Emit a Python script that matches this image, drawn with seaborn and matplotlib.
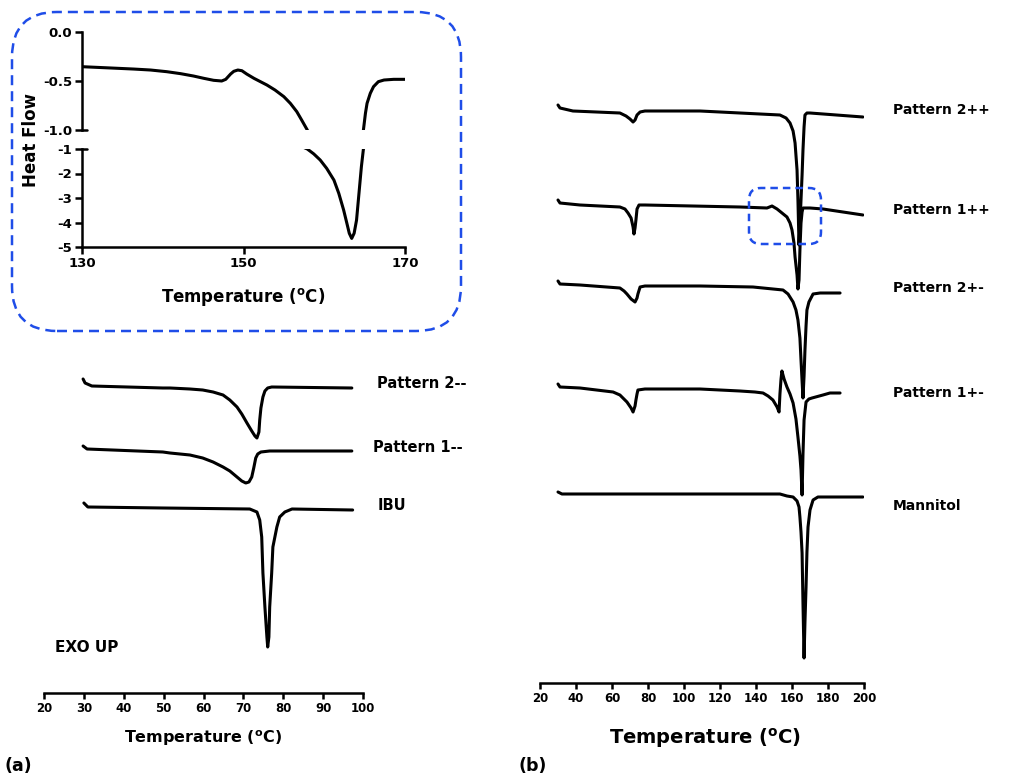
import numpy as np
import pandas as pd
import matplotlib
matplotlib.use("Agg")
import matplotlib.pyplot as plt
from matplotlib.patches import FancyBboxPatch
import seaborn as sns

# ---- data (T in degC, heat flow relative to start, a.u.) ----

# inset: Pattern 1++ zoomed 130-170 C
inset_temp = [130.0, 133.5, 136.4, 138.5, 140.5, 142.2, 143.8, 145.1, 146.3, 147.3, 147.8, 148.4,
              148.8, 149.3, 149.8, 150.4, 151.3, 152.1, 152.9, 153.9, 155.0, 155.8, 156.6, 157.2,
              157.9, 158.7, 159.5, 160.3, 161.2, 161.8, 162.4, 162.8, 163.1, 163.4, 163.7, 164.0,
              164.3, 164.6, 164.85, 165.1, 165.3, 165.7, 166.1, 166.7, 167.4, 168.6, 170.0]
inset_hf = [-0.354, -0.367, -0.378, -0.388, -0.405, -0.425, -0.449, -0.473, -0.493, -0.500, -0.483, -0.429,
            -0.401, -0.388, -0.395, -0.429, -0.473, -0.507, -0.541, -0.592, -0.660, -0.728, -0.813, -0.898,
            -1.0, -1.20, -1.45, -1.79, -2.27, -2.81, -3.49, -4.03, -4.44, -4.65, -4.44, -3.90,
            -2.81, -1.72, -1.0, -0.830, -0.728, -0.626, -0.558, -0.507, -0.490, -0.483, -0.483]

# panel (a)
a_names = ["Pattern 2--", "Pattern 1--", "IBU"]
a_offsets = [31.4, 24.7, 19.0]
a_p2_temp = [29.8, 30.3, 32.0, 49.8, 51.6, 56.6, 59.8, 62.4, 64.9, 66.6, 68.4, 69.6, 70.9, 72.1,
             72.9, 73.4, 73.9, 74.1, 74.4, 74.9, 75.4, 76.1, 77.1, 97.2]
a_p2_hf = [0, -0.4, -0.7, -0.9, -0.9, -1.0, -1.1, -1.3, -1.6, -2.1, -2.8, -3.5, -4.4, -5.2,
           -5.7, -5.9, -5.3, -4.1, -2.9, -1.8, -1.2, -0.9, -0.8, -0.9]
a_p1_temp = [29.8, 30.8, 49.8, 51.6, 56.6, 59.8, 62.4, 64.9, 66.6, 68.4, 69.6, 70.6, 71.4, 72.1,
             72.6, 73.1, 73.6, 74.4, 76.6, 97.2]
a_p1_hf = [0, -0.3, -0.6, -0.7, -0.9, -1.2, -1.6, -2.1, -2.5, -3.1, -3.5, -3.7, -3.6, -3.1,
           -2.2, -1.2, -0.8, -0.6, -0.5, -0.5]
a_ibu_temp = [30.0, 31.0, 49.8, 71.6, 73.4, 74.1, 74.6, 74.9, 75.4, 75.9, 76.1, 76.4, 76.6, 77.1,
              77.4, 78.4, 79.1, 80.4, 82.2, 97.4]
a_ibu_hf = [0, -0.4, -0.5, -0.6, -0.9, -1.7, -3.4, -7.0, -10.4, -13.4, -14.4, -13.4, -10.4, -7.0,
            -4.4, -2.4, -1.4, -0.9, -0.6, -0.7]
a_ticks = [20, 30, 40, 50, 60, 70, 80, 90, 100]

# panel (b)
b_names = ["Pattern 2++", "Pattern 1++", "Pattern 2+-", "Pattern 1+-", "Mannitol"]
b_offsets = [57.8, 48.3, 40.2, 29.9, 19.1]
b_p2pp_temp = [30.0, 31.1, 38.3, 64.4, 67.8, 70.0, 71.7, 72.8, 73.9, 75.6, 78.3, 108.9, 131.1,
               153.3, 156.7, 158.9, 160.6, 161.7, 162.8, 163.3, 163.9, 164.4, 165.0, 165.6, 166.1,
               166.7, 167.2, 168.3, 170.0, 199.4]
b_p2pp_hf = [0, -0.3, -0.6, -0.8, -1.1, -1.4, -1.7, -1.5, -1.0, -0.7, -0.6, -0.6, -0.8,
             -1.0, -1.3, -1.8, -2.6, -3.8, -6.5, -9.5, -14.0, -12.0, -9.5, -7.0, -4.5,
             -2.2, -1.0, -0.8, -0.8, -1.2]
b_p1pp_temp = [30.0, 31.1, 42.2, 64.4, 67.2, 68.9, 70.6, 71.7, 72.2, 72.8, 73.3, 73.9, 75.0, 78.3,
               131.1, 146.1, 148.9, 151.7, 157.2, 158.9, 160.0, 161.1, 161.7, 162.8, 163.3, 163.9,
               164.4, 165.0, 165.6, 166.1, 170.0, 177.2, 199.4]
b_p1pp_hf = [0, -0.3, -0.5, -0.7, -0.9, -1.3, -1.8, -2.7, -3.4, -2.8, -2.0, -0.9, -0.5, -0.5,
             -0.7, -0.8, -0.6, -0.9, -1.7, -2.3, -3.0, -4.3, -5.7, -7.5, -8.9, -8.0,
             -5.0, -2.3, -1.2, -0.8, -0.8, -0.9, -1.5]
b_p2pm_temp = [30.0, 31.1, 42.2, 64.4, 66.7, 68.3, 70.6, 72.8, 73.9, 74.4, 75.6, 78.3, 108.9,
               138.3, 155.0, 157.8, 160.6, 162.2, 163.3, 164.4, 165.0, 165.6, 166.1, 166.7, 167.2,
               167.8, 168.3, 169.4, 171.7, 175.6, 186.7]
b_p2pm_hf = [0, -0.3, -0.4, -0.7, -1.0, -1.3, -1.8, -2.1, -1.7, -1.3, -0.6, -0.5, -0.5,
             -0.6, -0.9, -1.3, -2.1, -2.9, -3.9, -5.7, -7.9, -10.0, -11.7, -9.5, -6.9,
             -4.5, -2.9, -2.1, -1.3, -1.2, -1.2]
b_p1pm_temp = [30.0, 31.1, 42.2, 60.6, 64.4, 68.3, 70.6, 71.7, 72.8, 73.3, 73.9, 74.4, 78.3,
               108.9, 131.1, 139.4, 143.9, 146.7, 149.4, 151.7, 152.8, 153.3, 153.9, 154.4, 155.6,
               157.2, 158.9, 160.6, 162.2, 163.3, 164.4, 165.0, 165.6, 166.1, 166.7, 167.8, 169.4,
               171.1, 177.2, 181.1, 186.7]
b_p1pm_hf = [0, -0.3, -0.4, -0.8, -1.1, -1.8, -2.4, -2.8, -2.2, -1.6, -1.0, -0.6, -0.5,
             -0.5, -0.7, -0.8, -0.9, -1.2, -1.6, -2.3, -2.8, -1.0, 0.5, 1.3, 0.5,
             -0.3, -1.0, -1.9, -3.5, -5.3, -7.2, -8.6, -11.1, -7.0, -3.6, -1.8, -1.5,
             -1.4, -1.1, -0.9, -0.9]
b_man_temp = [30.0, 32.2, 64.4, 131.1, 153.3, 157.2, 160.6, 162.8, 163.9, 164.4, 165.0, 165.6,
              166.1, 166.7, 167.2, 167.8, 168.3, 168.9, 170.0, 171.7, 174.4, 199.4]
b_man_hf = [0, -0.2, -0.2, -0.2, -0.2, -0.4, -0.5, -0.9, -1.5, -2.5, -4.0, -6.1,
            -11.1, -16.6, -13.0, -9.5, -6.0, -3.5, -1.8, -0.8, -0.5, -0.5]
b_ticks = [20, 40, 60, 80, 100, 120, 140, 160, 180, 200]

# ---- style ----
sns.set_theme(style="white")
plt.rcParams["font.family"] = ["DejaVu Sans"]
plt.rcParams["font.weight"] = "bold"
plt.rcParams["axes.unicode_minus"] = False
plt.rcParams["mathtext.fontset"] = "dejavusans"
for k in ("text.color", "axes.labelcolor", "xtick.color", "ytick.color", "axes.edgecolor"):
    plt.rcParams[k] = "black"

W, H = 1021, 778
fig = plt.figure(figsize=(W / 100, H / 100), dpi=100)


def box(x0, y0, x1, y1):
    # pixel box (top-left origin) -> figure fraction rect
    return [x0 / W, 1 - y1 / H, (x1 - x0) / W, (y1 - y0) / H]


def ptext(x, y, s, **kw):
    fig.text(x / W, 1 - y / H, s, color="black", **kw)


LW = 2.2
SPW = 1.8
temp_label = r"Temperature ($^{\mathbf{o}}$C)"


def curve(ax, t, hf, off=0.0):
    df = pd.DataFrame({"T": t, "hf": np.array(hf) + off})
    sns.lineplot(data=df, x="T", y="hf", ax=ax, color="black", lw=LW,
                 sort=False, estimator=None, solid_joinstyle="round", solid_capstyle="round")
    ax.set_xlabel("")
    ax.set_ylabel("")


# ---- inset (broken y axis) ----
ax_top = fig.add_axes(box(82, 32, 405, 130))
ax_bot = fig.add_axes(box(82, 149, 405, 247))
for ax in (ax_top, ax_bot):
    curve(ax, inset_temp, inset_hf)
    ax.set_xlim(130, 170)
    ax.set_facecolor("none")
    for s in ("top", "right"):
        ax.spines[s].set_visible(False)
    ax.spines["left"].set_linewidth(SPW)
    ax.spines["bottom"].set_linewidth(SPW)
    ax.tick_params(axis="both", direction="out", length=5, width=SPW, color="black",
                   labelsize=9.5, pad=2, left=True, bottom=True)
ax_top.spines["bottom"].set_visible(False)
ax_top.set_ylim(-1.0, 0.0)
ax_top.set_yticks([0.0, -0.5, -1.0], ["0.0", "-0.5", "-1.0"])
ax_top.set_xticks([])
ax_bot.set_ylim(-5, -1)
ax_bot.set_yticks([-1, -2, -3, -4, -5], ["-1", "-2", "-3", "-4", "-5"])
ax_bot.set_xticks([130, 150, 170], ["130", "150", "170"])
# break marks
ax_top.plot([0, 0.016], [0, 0], transform=ax_top.transAxes, color="black", lw=SPW, clip_on=False)
ax_bot.plot([0, 0.016], [1, 1], transform=ax_bot.transAxes, color="black", lw=SPW, clip_on=False)
ptext(243, 297, temp_label, ha="center", va="center", fontsize=12, fontweight="bold")
ptext(31, 140, "Heat Flow", ha="center", va="center", rotation=90, fontsize=12, fontweight="bold")


def stacked_axes(rect, xlim, ylim, ticks):
    ax = fig.add_axes(rect)
    ax.set_facecolor("none")
    for s in ("top", "right", "left"):
        ax.spines[s].set_visible(False)
    ax.spines["bottom"].set_linewidth(SPW)
    ax.set_xlim(*xlim)
    ax.set_ylim(*ylim)
    ax.set_yticks([])
    ax.set_xticks(ticks, [str(t) for t in ticks])
    ax.tick_params(axis="x", direction="out", length=4.5, width=SPW, color="black",
                   labelsize=8.5, pad=2, bottom=True)
    return ax


# ---- panel (a) ----
ax_a = stacked_axes(box(44, 370, 363, 693), (20, 100), (0, 32.3), a_ticks)
a_curves = [(a_p2_temp, a_p2_hf), (a_p1_temp, a_p1_hf), (a_ibu_temp, a_ibu_hf)]
for (t, hf), off in zip(a_curves, a_offsets):
    curve(ax_a, t, hf, off)
ax_a.set_yticks([])
ptext(203, 738, temp_label, ha="center", va="center", fontsize=11.5, fontweight="bold")
for name, (x, y) in zip(a_names, [(377, 384), (373, 448), (378, 506)]):
    ptext(x, y, name, ha="left", va="center", fontsize=10.5, fontweight="bold")
ptext(55, 648, "EXO UP", ha="left", va="center", fontsize=11, fontweight="bold")
ptext(4, 766, "(a)", ha="left", va="center", fontsize=12.5, fontweight="bold")

# ---- panel (b) ----
ax_b = stacked_axes(box(540, 95, 864, 683), (20, 200), (0, 58.8), b_ticks)
b_curves = [(b_p2pp_temp, b_p2pp_hf), (b_p1pp_temp, b_p1pp_hf), (b_p2pm_temp, b_p2pm_hf),
            (b_p1pm_temp, b_p1pm_hf), (b_man_temp, b_man_hf)]
for (t, hf), off in zip(b_curves, b_offsets):
    curve(ax_b, t, hf, off)
ax_b.set_yticks([])
ptext(705, 738, temp_label, ha="center", va="center", fontsize=14, fontweight="bold")
for name, y in zip(b_names, [110, 210, 288, 393, 506]):
    ptext(893, y, name, ha="left", va="center", fontsize=10, fontweight="bold")
ptext(518, 766, "(b)", ha="left", va="center", fontsize=12.5, fontweight="bold")

# ---- dashed highlight boxes (pixel -> inches) ----
blue = "#1f4de8"
big = FancyBboxPatch((0.12, (H - 331) / 100), 4.49, 3.19,
                     boxstyle="round,pad=0,rounding_size=0.45",
                     transform=fig.dpi_scale_trans, fill=False, ec=blue, lw=1.8,
                     ls=(0, (4, 2.4)))
small = FancyBboxPatch((7.49, (H - 244) / 100), 0.72, 0.56,
                       boxstyle="round,pad=0,rounding_size=0.12",
                       transform=fig.dpi_scale_trans, fill=False, ec=blue, lw=1.8,
                       ls=(0, (3, 2)))
fig.add_artist(big)
fig.add_artist(small)

fig.savefig("out.png", dpi=100)
